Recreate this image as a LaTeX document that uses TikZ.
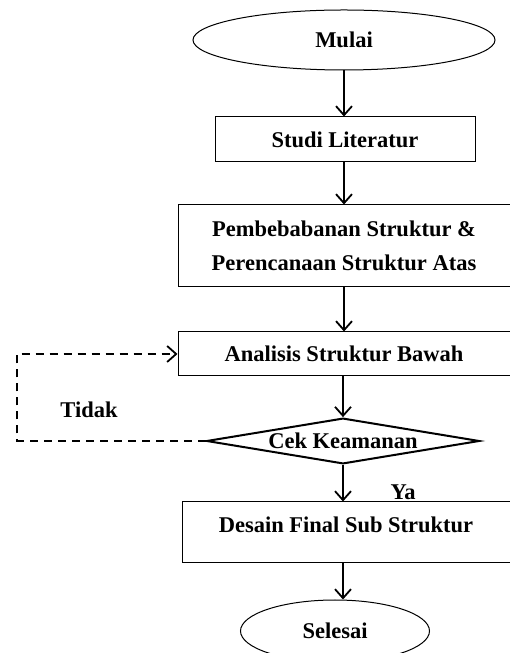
\documentclass[tikz,border=0pt]{standalone}
\usepackage{fontspec}
\setmainfont{Liberation Serif}
\usepackage{tikz}
\usetikzlibrary{arrows.meta}
\usetikzlibrary{shapes.geometric}

\begin{document}
\begin{tikzpicture}[x=1pt,y=1pt,
  font=\fontsize{22.5}{34}\selectfont\bfseries,
  kotak/.style={draw, line width=1pt, rectangle, inner sep=0pt},
  oval/.style={draw, line width=1pt, ellipse, inner sep=0pt},
  panah/.style={line width=2pt, -{Straight Barb[length=9pt,width=16pt,line width=1.8pt]}}]
\useasboundingbox (0,0) rectangle (510,653);
% draws nodes
\node[oval, minimum width=302, minimum height=60] (mulai) at (344,613) {Mulai};
\node[kotak, minimum width=260, minimum height=45] (studi) at (345,513.5) {Studi Literatur};
\node[kotak, minimum width=332, minimum height=82, align=center] (pembebanan) at (344,407)
  {Pembebabanan Struktur \&\\Perencanaan Struktur Atas};
\node[kotak, minimum width=332, minimum height=44] (analisis) at (344,299) {Analisis Struktur Bawah};
\node[diamond, draw, line width=2pt, aspect=5, inner sep=0pt,
  minimum width=273, minimum height=44] (cek) at (343,212) {Cek Keamanan};
\node[kotak, minimum width=328, minimum height=61, text height=15pt, text depth=15pt] (desain) at (346,120.5)
  {Desain Final Sub Struktur};
\node[oval, minimum width=189, minimum height=62] (selesai) at (335,22) {Selesai};
% labels
\node (ya) at (403,161) {Ya};
\node (tidak) at (89,243) {Tidak};
\coordinate (balik) at (17,212);
% draws edges
\draw[panah] (mulai.south) -- (mulai.south |- studi.north);
\draw[panah] (studi.south -| mulai) -- (mulai |- pembebanan.north);
\draw[panah] (pembebanan.south) -- (pembebanan.south |- analisis.north);
\draw[panah] (analisis.south -| cek) -- (cek.north);
\draw[panah] (cek.south) -- (cek.south |- desain.north);
\draw[panah] (desain.south -| cek) -- (cek |- selesai.north);
\draw[panah, dash pattern=on 8pt off 6pt] (cek.west) -- (balik) |- (analisis.west);
\end{tikzpicture}
\end{document}
